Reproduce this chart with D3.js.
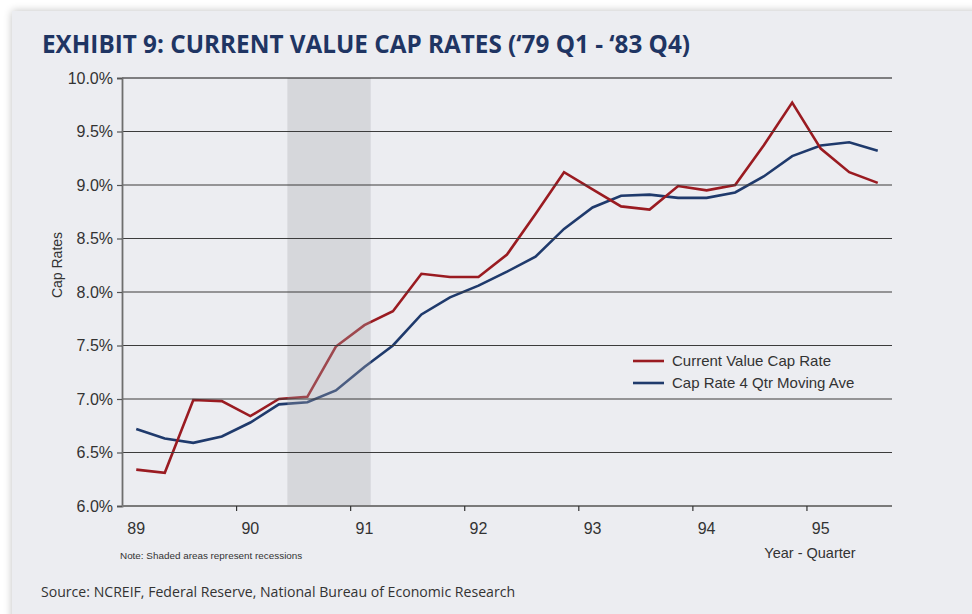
<!DOCTYPE html>
<html>
<head>
<meta charset="utf-8">
<script src="https://cdn.jsdelivr.net/npm/d3@7"></script>
<style>
  html, body { margin: 0; padding: 0; background: #ffffff; }
  svg { display: block; }
</style>
</head>
<body>
<svg id="chart" width="972" height="614"></svg>
<script>
// ---- data ----
const quarters = [
  "89 Q1","89 Q2","89 Q3","89 Q4",
  "90 Q1","90 Q2","90 Q3","90 Q4",
  "91 Q1","91 Q2","91 Q3","91 Q4",
  "92 Q1","92 Q2","92 Q3","92 Q4",
  "93 Q1","93 Q2","93 Q3","93 Q4",
  "94 Q1","94 Q2","94 Q3","94 Q4",
  "95 Q1","95 Q2","95 Q3"
];
const currentValueCapRate = [
  6.34, 6.31, 6.99, 6.98, 6.84, 7.00, 7.02, 7.49, 7.69, 7.82,
  8.17, 8.14, 8.14, 8.35, 8.73, 9.12, 8.96, 8.80, 8.77, 8.99,
  8.95, 9.00, 9.37, 9.77, 9.34, 9.12, 9.02
];
const movingAverage = [
  6.72, 6.63, 6.59, 6.65, 6.78, 6.95, 6.97, 7.08, 7.30, 7.50,
  7.79, 7.95, 8.06, 8.19, 8.33, 8.59, 8.79, 8.90, 8.91, 8.88,
  8.88, 8.93, 9.08, 9.27, 9.37, 9.40, 9.32
];
const yearTicks = [89, 90, 91, 92, 93, 94, 95];
const yTicks = [6.0, 6.5, 7.0, 7.5, 8.0, 8.5, 9.0, 9.5, 10.0];
const recession = [90.45, 91.18];
const seriesNames = ["Current Value Cap Rate", "Cap Rate 4 Qtr Moving Ave"];

// ---- layout ----
const svg = d3.select("#chart");
const L = 122, R = 892, T = 78, B = 506;
const red = "#9a1b21", blue = "#1f3a6c";

const defs = svg.append("defs");
const f = defs.append("filter").attr("id", "shadow")
  .attr("x", "-5%").attr("y", "-5%").attr("width", "110%").attr("height", "110%");
f.append("feGaussianBlur").attr("in", "SourceAlpha").attr("stdDeviation", 4);
f.append("feOffset").attr("dx", 0).attr("dy", 0).attr("result", "b");
f.append("feComponentTransfer").append("feFuncA").attr("type", "linear").attr("slope", 0.25);
const m = f.append("feMerge");
m.append("feMergeNode");
m.append("feMergeNode").attr("in", "SourceGraphic");

svg.append("rect").attr("x", 12).attr("y", 11).attr("width", 980).attr("height", 620)
  .attr("fill", "#ecedf1").attr("filter", "url(#shadow)");

// title
svg.append("text")
  .attr("x", 42).attr("y", 53)
  .attr("font-family", "'Open Sans', sans-serif").attr("font-weight", 700)
  .attr("font-size", 25).attr("fill", "#1f3563")
  .attr("textLength", 648).attr("lengthAdjust", "spacingAndGlyphs")
  .text("EXHIBIT 9: CURRENT VALUE CAP RATES (\u201879 Q1 - \u201883 Q4)");

// scales
const x = d3.scaleLinear().domain([89, 89 + quarters.length / 4]).range([L, R]);
const y = d3.scaleLinear().domain([6, 10]).range([B, T]);
const qx = i => x(89 + (i + 0.5) / 4);

// lines
const line = d3.line().x((d, i) => qx(i)).y(d => y(d));
svg.append("path").datum(movingAverage).attr("d", line)
  .attr("fill", "none").attr("stroke", blue).attr("stroke-width", 2.6)
  .attr("stroke-linejoin", "miter");
svg.append("path").datum(currentValueCapRate).attr("d", line)
  .attr("fill", "none").attr("stroke", red).attr("stroke-width", 2.6)
  .attr("stroke-linejoin", "miter");

// recession shading (over lines)
svg.append("rect")
  .attr("x", x(recession[0])).attr("y", T)
  .attr("width", x(recession[1]) - x(recession[0])).attr("height", B - T)
  .attr("fill", "#a8a9ae").attr("fill-opacity", 0.32);

// gridlines
svg.append("g").selectAll("line").data(yTicks.filter(d => d > 6)).join("line")
  .attr("x1", L).attr("x2", R)
  .attr("y1", d => y(d)).attr("y2", d => y(d))
  .attr("stroke", d => d === 10 ? "#111" : "#3c3c3c").attr("stroke-width", 1.2);

// y axis
const yAxis = d3.axisLeft(y).tickValues(yTicks).tickSize(5).tickPadding(4)
  .tickFormat(d => d.toFixed(1) + "%");
const gy = svg.append("g").attr("transform", `translate(${L},0)`).call(yAxis);
gy.select(".domain").attr("stroke", "#6e6e6e").attr("stroke-width", 1.8);
gy.selectAll(".tick line").attr("stroke", "#555").attr("stroke-width", 1.2);
gy.selectAll(".tick text").attr("font-family", "'Liberation Sans', Arial, sans-serif")
  .attr("font-size", 16).attr("fill", "#333");

// x axis
const xAxis = d3.axisBottom(x).tickValues(yearTicks.filter(d => d > 89)).tickSize(5).tickFormat("");
const gx = svg.append("g").attr("transform", `translate(0,${B})`).call(xAxis);
gx.select(".domain").attr("stroke", "#7a7a7a").attr("stroke-width", 1.8).attr("d", `M${L},0H${R}`);
gx.selectAll(".tick line").attr("stroke", "#333").attr("stroke-width", 1.2);
svg.append("g").selectAll("text").data(yearTicks).join("text")
  .attr("x", d => x(d + 0.125)).attr("y", 534)
  .attr("text-anchor", "middle")
  .attr("font-family", "'Liberation Sans', Arial, sans-serif").attr("font-size", 16)
  .attr("fill", "#333").text(d => d);

// axis titles
svg.append("text").attr("transform", "translate(62,265) rotate(-90)")
  .attr("text-anchor", "middle")
  .attr("font-family", "'Liberation Sans', Arial, sans-serif").attr("font-size", 14)
  .attr("fill", "#333").text("Cap Rates");
svg.append("text").attr("x", 810).attr("y", 558).attr("text-anchor", "middle")
  .attr("font-family", "'Liberation Sans', Arial, sans-serif").attr("font-size", 14.5)
  .attr("fill", "#333").text("Year - Quarter");

// legend
const lg = svg.append("g");
[red, blue].forEach((c, i) => {
  lg.append("line").attr("x1", 633).attr("x2", 664)
    .attr("y1", 361 + i * 22).attr("y2", 361 + i * 22)
    .attr("stroke", c).attr("stroke-width", 2.6);
  lg.append("text").attr("x", 672).attr("y", 366 + i * 22)
    .attr("font-family", "'Liberation Sans', Arial, sans-serif").attr("font-size", 15)
    .attr("fill", "#333").text(seriesNames[i]);
});

// note & source
svg.append("text").attr("x", 120).attr("y", 559)
  .attr("font-family", "'Liberation Sans', Arial, sans-serif").attr("font-size", 9.9)
  .attr("fill", "#333").text("Note: Shaded areas represent recessions");
svg.append("text").attr("x", 41).attr("y", 597)
  .attr("font-family", "'Open Sans', sans-serif").attr("font-size", 14.1)
  .attr("fill", "#333").text("Source: NCREIF, Federal Reserve, National Bureau of Economic Research");
</script>
</body>
</html>
